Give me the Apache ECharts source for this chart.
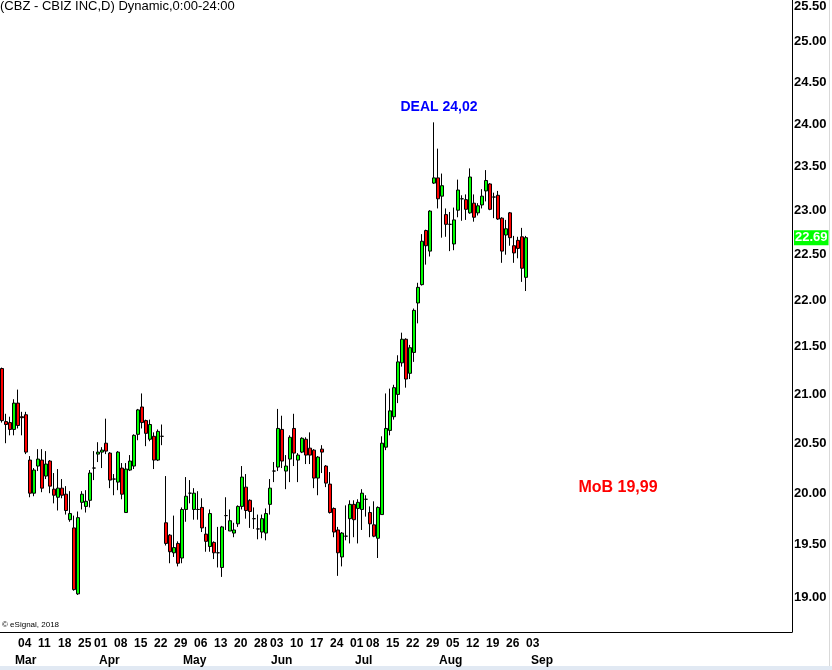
<!DOCTYPE html>
<html><head><meta charset="utf-8">
<script src="https://cdn.jsdelivr.net/npm/echarts@6/dist/echarts.min.js"></script>
<style>html,body{margin:0;padding:0;background:#fff}#c{width:832px;height:670px}</style>
</head><body><div id="c"></div>
<script>
// Trading days (2018)
const dates = [
'02-27','02-28',
'03-01','03-02','03-05','03-06','03-07','03-08','03-09','03-12','03-13','03-14','03-15','03-16',
'03-19','03-20','03-21','03-22','03-23','03-26','03-27','03-28','03-29',
'04-02','04-03','04-04','04-05','04-06','04-09','04-10','04-11','04-12','04-13',
'04-16','04-17','04-18','04-19','04-20','04-23','04-24','04-25','04-26','04-27','04-30',
'05-01','05-02','05-03','05-04','05-07','05-08','05-09','05-10','05-11','05-14','05-15','05-16','05-17','05-18',
'05-21','05-22','05-23','05-24','05-25','05-29','05-30','05-31',
'06-01','06-04','06-05','06-06','06-07','06-08','06-11','06-12','06-13','06-14','06-15',
'06-18','06-19','06-20','06-21','06-22','06-25','06-26','06-27','06-28','06-29',
'07-02','07-03','07-05','07-06','07-09','07-10','07-11','07-12','07-13','07-16','07-17','07-18','07-19','07-20',
'07-23','07-24','07-25','07-26','07-27','07-30','07-31',
'08-01','08-02','08-03','08-06','08-07','08-08','08-09','08-10','08-13','08-14','08-15','08-16','08-17',
'08-20','08-21','08-22','08-23','08-24','08-27','08-28','08-29','08-30','08-31',
'09-04'
];
const opens = [
21.27,20.72,20.71,20.64,20.91,20.77,20.79,20.33,20.00,20.27,20.33,20.17,20.32,20.04,19.96,20.05,19.99,19.74,19.66,19.03,
19.91,19.87,19.93,20.25,20.39,20.41,20.50,20.40,20.14,20.11,20.25,19.81,20.23,20.27,20.59,20.87,20.73,20.54,20.57,20.33,
20.57,19.71,19.59,19.42,19.51,19.37,19.84,20.00,19.84,19.84,19.86,19.60,19.48,19.52,19.42,19.28,19.78,19.63,19.61,19.70,
19.87,20.06,19.93,19.75,19.65,19.62,19.61,19.89,20.22,20.26,20.64,20.22,20.34,20.65,20.33,20.41,20.54,20.45,20.43,20.15,
20.44,20.27,20.09,19.85,19.64,19.38,19.58,19.75,19.89,19.85,19.84,19.94,19.81,19.69,19.56,19.79,20.46,20.63,20.77,21.00,
21.33,21.58,21.22,21.44,21.97,22.17,22.77,22.54,23.31,23.37,23.16,22.95,22.84,22.62,23.00,23.13,23.12,22.97,23.08,22.97,
23.06,23.22,23.30,23.15,23.17,22.91,22.72,22.97,22.60,22.66,22.70,22.25
];
const highs = [
21.28,20.80,20.77,20.95,21.05,20.82,20.82,20.37,20.25,20.44,20.44,20.42,20.33,20.20,20.24,20.14,20.07,20.02,19.78,19.82,
20.02,20.03,20.23,20.42,20.51,20.46,20.75,20.41,20.19,20.42,20.30,20.30,20.38,20.59,20.85,21.01,20.74,20.74,20.61,20.64,
20.69,20.17,19.60,19.78,19.53,19.86,20.16,20.13,20.05,20.02,19.95,19.67,19.84,19.53,19.67,19.68,19.96,19.84,19.71,19.88,
20.27,20.19,19.94,19.86,19.79,19.79,19.85,20.14,20.31,20.85,20.78,20.38,20.58,20.80,20.40,20.56,20.56,20.61,20.44,20.37,
20.48,20.28,20.21,19.86,19.67,19.62,19.88,19.93,19.93,19.94,20.04,19.98,19.87,19.92,19.87,20.57,21.01,21.06,21.10,21.41,
21.65,21.59,21.52,21.91,22.19,22.73,22.78,23.00,24.02,23.71,23.42,23.02,22.98,23.03,23.35,23.17,23.18,23.48,23.18,23.08,
23.24,23.46,23.31,23.20,23.22,22.92,22.89,22.98,22.71,22.70,22.80,22.71
];
const lows = [
20.71,20.50,20.58,20.58,20.65,20.58,20.39,19.96,19.97,20.22,20.01,20.14,20.00,19.90,19.83,19.95,19.79,19.72,19.06,19.02,
19.84,19.81,19.86,20.13,20.31,20.25,20.39,20.05,19.98,20.03,19.94,19.81,20.22,20.24,20.53,20.65,20.47,20.52,20.24,20.32,
20.48,19.49,19.32,19.38,19.29,19.32,19.72,19.90,19.74,19.74,19.62,19.43,19.43,19.36,19.28,19.19,19.64,19.63,19.57,19.67,
19.84,19.75,19.66,19.65,19.55,19.56,19.54,19.79,20.11,20.22,20.25,20.04,20.11,20.27,20.11,20.40,20.29,20.29,20.05,19.98,
20.20,20.06,19.80,19.57,19.20,19.29,19.54,19.51,19.57,19.51,19.64,19.77,19.57,19.57,19.37,19.79,20.43,20.58,20.74,20.91,
21.29,21.07,21.16,21.34,21.75,22.16,22.39,22.48,23.30,23.02,22.69,22.70,22.54,22.55,22.92,22.88,22.89,22.96,22.87,22.94,
23.02,23.10,23.00,22.91,22.89,22.41,22.50,22.60,22.41,22.46,22.20,22.10
];
const closes = [
20.73,20.69,20.64,20.91,20.68,20.76,20.41,20.00,20.23,20.34,20.05,20.29,20.07,19.98,20.05,19.98,19.83,19.80,19.07,19.76,
19.99,19.92,20.20,20.25,20.41,20.43,20.42,20.13,20.14,20.41,19.99,20.24,20.32,20.58,20.84,20.71,20.60,20.69,20.33,20.62,
20.57,19.51,19.43,19.47,19.32,19.84,19.97,20.00,20.00,19.84,19.66,19.53,19.80,19.42,19.42,19.67,19.78,19.73,19.64,19.87,
20.16,19.83,19.82,19.75,19.65,19.75,19.80,20.05,20.22,20.65,20.32,20.27,20.56,20.40,20.38,20.55,20.38,20.38,20.15,20.36,
20.41,20.10,19.81,19.62,19.42,19.61,19.58,19.89,19.74,19.91,20.00,19.94,19.70,19.58,19.86,20.50,20.65,20.83,21.07,21.34,
21.58,21.16,21.49,21.89,22.14,22.65,22.60,22.99,23.37,23.13,23.28,22.84,22.84,22.89,23.23,23.13,23.01,23.38,22.92,23.05,
23.16,23.34,23.01,23.15,22.90,22.54,22.79,22.69,22.52,22.57,22.35,22.69
];
const weekLabels = {
'03-05':'04','03-12':'11','03-19':'18','03-26':'25','04-02':'01','04-09':'08','04-16':'15','04-23':'22',
'04-30':'29','05-07':'06','05-14':'13','05-21':'20','05-29':'28','06-04':'03','06-11':'10','06-18':'17',
'06-25':'24','07-02':'01','07-09':'08','07-16':'15','07-23':'22','07-30':'29','08-06':'05','08-13':'12',
'08-20':'19','08-27':'26','09-04':'03'
};
const monthLabels = {'03-01':'Mar','04-02':'Apr','05-01':'May','06-01':'Jun','07-02':'Jul','08-01':'Aug','09-04':'Sep'};
const yTicks = [19.00,19.50,20.00,20.50,21.00,21.50,22.00,22.50,23.00,23.50,24.00,24.50,25.00,25.50];
const priceMin = 18.675, priceMax = 25.516;
const dealDate = '08-01', dealPrice = 24.02;
const mobSlot = 154, mobPrice = 19.99;
const headerText = '(CBZ - CBIZ INC,D) Dynamic,0:00-24:00';
const copyrightText = '\u00a9 eSignal, 2018';

const padSlots = 66;
const categories = dates.concat(Array.from({length: padSlots}, (_, i) => 'pad' + i));
const ohlc = dates.map((d, i) => [opens[i], closes[i], lows[i], highs[i]]);
const lastClose = closes[closes.length - 1];
const FONT = '"Liberation Sans", Arial, sans-serif';
const fmtComma = v => v.toFixed(2).replace('.', ',');

const chart = echarts.init(document.getElementById('c'), null, {renderer: 'canvas'});
chart.setOption({
  animation: false,
  backgroundColor: '#ffffff',
  grid: {left: 0, right: 40, top: 0, bottom: 38, containLabel: false, outerBoundsMode: 'none'},
  xAxis: [{
    type: 'category', data: categories, boundaryGap: true, position: 'bottom',
    axisLine: {show: true, lineStyle: {color: '#000', width: 1}},
    axisTick: {show: false}, splitLine: {show: false},
    axisLabel: {interval: 0, align: 'left', margin: 6, color: '#000', fontFamily: FONT, fontWeight: 'bold', fontSize: 12,
      formatter: v => weekLabels[v] || ''}
  }, {
    type: 'category', data: categories, boundaryGap: true, position: 'bottom',
    axisLine: {show: false}, axisTick: {show: false}, splitLine: {show: false},
    axisLabel: {interval: 0, align: 'left', margin: 23, padding: [0, 0, 0, 5], color: '#000', fontFamily: FONT, fontWeight: 'bold', fontSize: 12,
      formatter: v => monthLabels[v] || ''}
  }],
  yAxis: [{
    type: 'log', logBase: 10, min: priceMin, max: priceMax, position: 'right',
    axisLine: {show: true, lineStyle: {color: '#000', width: 1}},
    axisTick: {show: false}, splitLine: {show: false}, axisLabel: {show: false}
  }, {
    type: 'value', min: Math.log(priceMin), max: Math.log(priceMax), position: 'right',
    axisLine: {show: false}, axisTick: {show: false}, splitLine: {show: false},
    axisLabel: {
      margin: 2, color: '#000', fontFamily: FONT, fontWeight: 'bold', fontSize: 13,
      customValues: yTicks.map(Math.log).concat([Math.log(lastClose)]),
      formatter: v => {
        const p = Math.exp(v);
        if (Math.abs(p - lastClose) < 1e-6) return '{hl|' + p.toFixed(2) + '}';
        if (Math.abs(p - yTicks[yTicks.length - 1]) < 1e-6) return '{top|' + p.toFixed(2) + '}';
        return p.toFixed(2);
      },
      rich: {
        hl: {backgroundColor: '#00ff00', color: '#ffffff', fontFamily: FONT, fontWeight: 'bold', fontSize: 13, padding: [1, 1, 1, 1]},
        top: {padding: [10, 0, 0, 0], color: '#000', fontFamily: FONT, fontWeight: 'bold', fontSize: 13}
      }
    }
  }],
  series: [{
    type: 'candlestick', xAxisIndex: 0, yAxisIndex: 0,
    data: ohlc, barWidth: 3,
    itemStyle: {color: '#00ff00', color0: '#ff0000', borderColor: '#000', borderColor0: '#000', borderWidth: 1},
    markPoint: {
      symbol: 'circle', symbolSize: 0, silent: true,
      itemStyle: {color: 'transparent'},
      data: [{
        coord: [dates.indexOf(dealDate), dealPrice],
        label: {show: true, position: 'inside', offset: [5, -15], formatter: 'DEAL ' + fmtComma(dealPrice),
          color: '#0000ff', fontFamily: FONT, fontWeight: 'bold', fontSize: 14}
      }, {
        coord: [mobSlot, mobPrice],
        label: {show: true, position: 'inside', offset: [0, -7], formatter: 'MoB ' + fmtComma(mobPrice),
          color: '#ff0000', fontFamily: FONT, fontWeight: 'bold', fontSize: 16}
      }]
    }
  }],
  graphic: [
    {type: 'text', left: 0, top: 0, style: {text: headerText, fill: '#000', font: '13px ' + FONT}},
    {type: 'text', left: 2, top: 621, style: {text: copyrightText, fill: '#000', font: '8px ' + FONT}},
    {type: 'rect', left: 0, top: 666, shape: {width: 832, height: 4}, style: {fill: '#e1e9f3'}},
    {type: 'rect', left: 829, top: 0, shape: {width: 1, height: 666}, style: {fill: '#d9d9d9'}}
  ]
});
</script>
</body></html>
